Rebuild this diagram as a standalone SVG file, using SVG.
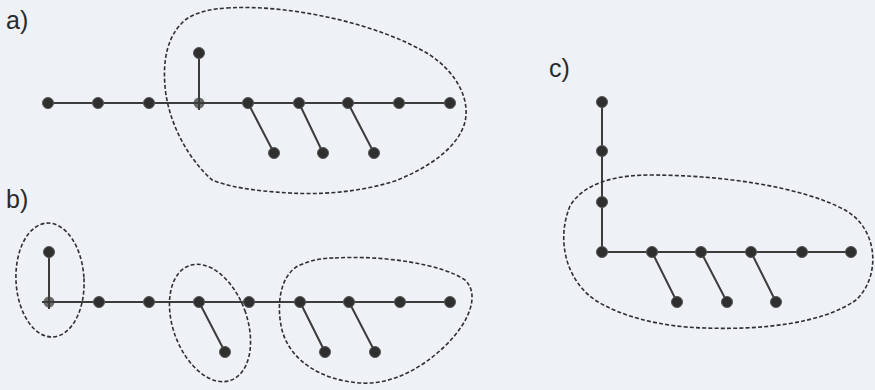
<svg xmlns="http://www.w3.org/2000/svg" width="875" height="390" viewBox="0 0 875 390">
<style>
.bg{fill:#eef1f6}
.lbl{font-family:"Liberation Sans","DejaVu Sans",sans-serif;font-size:25px;fill:#2a2a2a}
.e{stroke:#3c3c3c;stroke-width:2;fill:none}
.n{fill:#2f2f2f;stroke:#555;stroke-width:1}
.nx{fill:#6a6a6a}
.loop{fill:none;stroke:#2f2f2f;stroke-width:1.6;stroke-dasharray:4 2.2}
</style>
<rect class="bg" x="0" y="0" width="875" height="390"/>
<text class="lbl" x="6" y="29">a)</text>
<text class="lbl" x="6" y="208">b)</text>
<text class="lbl" x="549" y="77">c)</text>

<g id="connectors">
  <path class="e" d="M48,103 H450 M199,103 V53 M248,103 L274,153 M299,103 L323,153 M348,103 L374,153"/>
  <path class="e" d="M49,302 H450 M49,302 V252 M199,302 L225,352 M300,302 L325,352 M349,302 L375,352"/>
  <path class="e" d="M602,102 V252 H851 M652,252 L677,302 M701,252 L727,302 M751,252 L776,302"/>
</g>

<g id="tree-a">
  <circle class="n" cx="48" cy="103" r="5.5"/>
  <circle class="n" cx="98" cy="103" r="5.5"/>
  <circle class="n" cx="149" cy="103" r="5.5"/>
  <circle class="nx" cx="199" cy="103" r="5.5"/>
  <circle class="n" cx="248" cy="103" r="5.5"/>
  <circle class="n" cx="299" cy="103" r="5.5"/>
  <circle class="n" cx="348" cy="103" r="5.5"/>
  <circle class="n" cx="399" cy="103" r="5.5"/>
  <circle class="n" cx="450" cy="103" r="5.5"/>
  <circle class="n" cx="199" cy="53" r="5.5"/>
  <circle class="n" cx="274" cy="153" r="5.5"/>
  <circle class="n" cx="323" cy="153" r="5.5"/>
  <circle class="n" cx="374" cy="153" r="5.5"/>
  <path class="e" d="M192,103 H206 M199,96 V110"/>
</g>
<g id="group-a">
  <path class="loop" d="M227,8 C290,4 380,24 430,55 C458,74 470,100 465,122 C458,148 428,168 395,181 C360,192 322,195 290,193 C252,191 226,186 212,180 C190,160 172,130 166,95 C161,60 168,32 188,18 C200,11 212,9 227,8 Z"/>
</g>

<g id="tree-b">
  <circle class="nx" cx="49" cy="302" r="5.5"/>
  <circle class="n" cx="99" cy="302" r="5.5"/>
  <circle class="n" cx="149" cy="302" r="5.5"/>
  <circle class="n" cx="199" cy="302" r="5.5"/>
  <circle class="n" cx="249" cy="302" r="5.5"/>
  <circle class="n" cx="300" cy="302" r="5.5"/>
  <circle class="n" cx="349" cy="302" r="5.5"/>
  <circle class="n" cx="400" cy="302" r="5.5"/>
  <circle class="n" cx="450" cy="302" r="5.5"/>
  <circle class="n" cx="49" cy="252" r="5.5"/>
  <circle class="n" cx="225" cy="352" r="5.5"/>
  <circle class="n" cx="325" cy="352" r="5.5"/>
  <circle class="n" cx="375" cy="352" r="5.5"/>
  <path class="e" d="M42,302 H56 M49,295 V309"/>
</g>
<g id="group-b1">
  <ellipse class="loop" cx="50" cy="280" rx="34" ry="57" transform="rotate(-3 50 280)"/>
</g>
<g id="group-b2">
  <ellipse class="loop" cx="210" cy="323" rx="37" ry="61" transform="rotate(-20 210 323)"/>
</g>
<g id="group-b3">
  <path class="loop" d="M335,258 C382,255 442,264 465,280 C480,294 470,322 445,346 C420,370 390,385 360,383 C320,380 290,360 282,330 C276,305 280,276 298,266 C311,260 322,258 335,258 Z"/>
</g>

<g id="tree-c">
  <circle class="n" cx="602" cy="102" r="5.5"/>
  <circle class="n" cx="602" cy="151" r="5.5"/>
  <circle class="n" cx="602" cy="202" r="5.5"/>
  <circle class="n" cx="602" cy="252" r="5.5"/>
  <circle class="n" cx="652" cy="252" r="5.5"/>
  <circle class="n" cx="701" cy="252" r="5.5"/>
  <circle class="n" cx="751" cy="252" r="5.5"/>
  <circle class="n" cx="802" cy="252" r="5.5"/>
  <circle class="n" cx="851" cy="252" r="5.5"/>
  <circle class="n" cx="677" cy="302" r="5.5"/>
  <circle class="n" cx="727" cy="302" r="5.5"/>
  <circle class="n" cx="776" cy="302" r="5.5"/>
</g>
<g id="group-c">
  <path class="loop" d="M650,175 C720,175 800,186 845,210 C880,230 880,278 856,300 C822,324 760,330 705,328 C660,327 620,316 595,300 C566,280 556,240 570,206 C585,181 620,175 650,175 Z"/>
</g>
</svg>
